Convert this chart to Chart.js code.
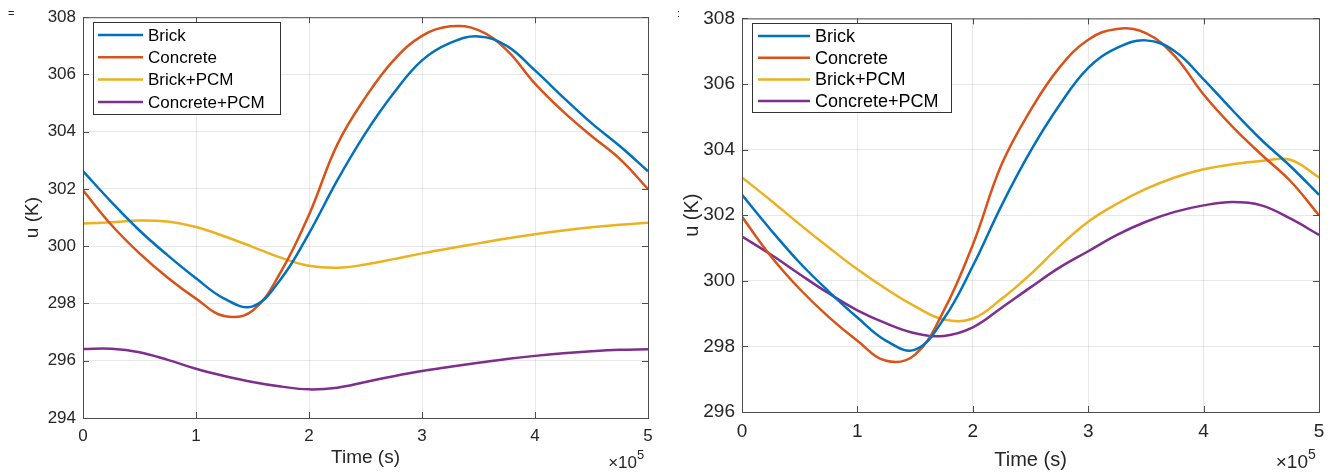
<!DOCTYPE html>
<html>
<head>
<meta charset="utf-8">
<script src="https://cdn.jsdelivr.net/npm/chart.js@4.4.1/dist/chart.umd.min.js"></script>
<style>
  body { margin: 0; background: #fff; }
  .panel { position: absolute; top: 0; width: 669px; height: 475px; }
</style>
</head>
<body>
<div class="panel" style="left:0"><canvas id="chart-left"></canvas></div>
<div class="panel" style="left:669px"><canvas id="chart-right"></canvas></div>
<script>
// time in seconds
const times = [0, 25000, 50000, 75000, 100000, 125000, 150000, 175000, 200000, 225000, 250000,
  275000, 300000, 325000, 350000, 375000, 400000, 425000, 450000, 475000, 500000];

const seriesNames = ["Brick", "Concrete", "Brick+PCM", "Concrete+PCM"];
const seriesColors = ["#0072BD", "#D95319", "#EDB120", "#7E2F8E"];

// same in both panels
const brick = [302.62, 301.55, 300.55, 299.68, 298.88, 298.17, 297.9, 298.85, 300.45, 302.3, 303.95,
  305.35, 306.49, 307.1, 307.33, 307.0, 306.14, 305.2, 304.3, 303.5, 302.62];
const concrete = [301.95, 300.75, 299.75, 298.9, 298.17, 297.56, 297.75, 299.1, 301.1, 303.55, 305.2,
  306.5, 307.35, 307.68, 307.55, 306.85, 305.68, 304.7, 303.85, 303.05, 302.0];

// left panel
const brickPcmLeft = [300.79, 300.84, 300.9, 300.86, 300.67, 300.35, 299.98, 299.6, 299.32, 299.25, 299.36,
  299.55, 299.75, 299.93, 300.1, 300.27, 300.42, 300.55, 300.66, 300.75, 300.82];
const concretePcmLeft = [296.41, 296.42, 296.3, 296.03, 295.72, 295.47, 295.26, 295.1, 295.0, 295.06, 295.26,
  295.46, 295.64, 295.79, 295.93, 296.06, 296.17, 296.26, 296.33, 296.38, 296.4];

// right panel
const brickPcmRight = [303.15, 302.45, 301.72, 301.02, 300.35, 299.75, 299.22, 298.82, 298.85, 299.45, 300.2,
  301.05, 301.8, 302.35, 302.8, 303.15, 303.4, 303.55, 303.65, 303.69, 303.15];
const concretePcmRight = [301.35, 300.8, 300.2, 299.62, 299.1, 298.7, 298.4, 298.32, 298.58, 299.18, 299.8,
  300.4, 300.9, 301.4, 301.8, 302.1, 302.3, 302.4, 302.3, 301.9, 301.4];

const xTickValues = [0, 100000, 200000, 300000, 400000, 500000];
const yRangeLeft = [294, 308];
const yRangeRight = [296, 308];

const frameColor = "#4d4d4d";
const textColor = "#262626";
const fontFamily = "'Liberation Sans', Arial, sans-serif";

// box, inward ticks, legend, titles, exponent label
const matlabFrame = {
  id: "matlabFrame",
  afterDraw(chart, args, opts) {
    const ctx = chart.ctx;
    const a = chart.chartArea;
    const xs = chart.scales.x, ys = chart.scales.y;
    ctx.save();
    ctx.strokeStyle = frameColor;
    ctx.lineWidth = 1;
    ctx.strokeRect(a.left + 0.5, a.top + 0.5, a.right - a.left, a.bottom - a.top);
    ctx.beginPath();
    xs.ticks.forEach(t => {
      const px = Math.round(xs.getPixelForValue(t.value)) + 0.5;
      ctx.moveTo(px, a.bottom); ctx.lineTo(px, a.bottom - 6);
      ctx.moveTo(px, a.top); ctx.lineTo(px, a.top + 6);
    });
    ys.ticks.forEach(t => {
      const py = Math.round(ys.getPixelForValue(t.value)) + 0.5;
      ctx.moveTo(a.left, py); ctx.lineTo(a.left + 6, py);
      ctx.moveTo(a.right, py); ctx.lineTo(a.right - 6, py);
    });
    ctx.stroke();

    // legend
    const lg = opts.legend;
    ctx.fillStyle = "#fff";
    ctx.fillRect(lg.x, lg.y, lg.w, lg.h);
    ctx.strokeStyle = "#333";
    ctx.strokeRect(lg.x + 0.5, lg.y + 0.5, lg.w, lg.h);
    ctx.font = lg.fontSize + "px " + fontFamily;
    ctx.textBaseline = "middle";
    ctx.textAlign = "left";
    chart.data.datasets.forEach((ds, i) => {
      const ry = lg.y + lg.firstRow + i * lg.rowGap;
      ctx.strokeStyle = ds.borderColor;
      ctx.lineWidth = 2.5;
      ctx.beginPath();
      ctx.moveTo(lg.lineX1, ry); ctx.lineTo(lg.lineX2, ry);
      ctx.stroke();
      ctx.fillStyle = "#000";
      ctx.fillText(ds.label, lg.textX, ry + 1);
    });

    // axis titles
    ctx.fillStyle = textColor;
    ctx.font = opts.titleSize + "px " + fontFamily;
    ctx.textAlign = "center";
    ctx.fillText("Time (s)", (a.left + a.right) / 2, opts.xTitleY);
    ctx.save();
    ctx.translate(opts.yTitleX, (a.top + a.bottom) / 2);
    ctx.rotate(-Math.PI / 2);
    ctx.fillText("u (K)", 0, 0);
    ctx.restore();

    // x10^5
    ctx.font = opts.tickSize + "px " + fontFamily;
    ctx.textAlign = "right";
    ctx.fillText("\u00d710", a.right - 11, opts.expY);
    ctx.font = Math.round(opts.tickSize * 0.75) + "px " + fontFamily;
    ctx.textAlign = "left";
    ctx.fillText("5", a.right - 11, opts.expY - 8);

    // stray mark in the corner of the source figure
    ctx.font = "11px " + fontFamily;
    ctx.fillText(opts.cornerMark, 8, 14);
    ctx.restore();
  }
};

function makeChart(id, pcmBrick, pcmConcrete, yRange, frame) {
  const values = [brick, concrete, pcmBrick, pcmConcrete];
  const datasets = values.map((vals, i) => ({
    label: seriesNames[i],
    data: times.map((t, k) => ({ x: t, y: vals[k] })),
    borderColor: seriesColors[i],
    borderWidth: 2.5,
    pointRadius: 0,
    tension: 0.4,
    fill: false
  }));
  return new Chart(document.getElementById(id), {
    type: "line",
    data: { datasets: datasets },
    plugins: [matlabFrame],
    options: {
      responsive: true,
      maintainAspectRatio: false,
      animation: false,
      layout: { padding: frame.padding },
      plugins: {
        legend: { display: false },
        tooltip: { enabled: false },
        matlabFrame: frame
      },
      scales: {
        x: {
          type: "linear",
          min: 0,
          max: 500000,
          afterBuildTicks: (scale) => { scale.ticks = xTickValues.map(v => ({ value: v })); },
          afterFit: (scale) => { scale.height = frame.xAxisHeight; },
          ticks: {
            padding: frame.xTickPad,
            color: textColor,
            font: { family: fontFamily, size: frame.tickSize },
            maxRotation: 0,
            callback: (v) => String(v / 100000)
          },
          grid: { color: "rgba(0,0,0,0.09)", drawTicks: false },
          border: { display: false }
        },
        y: {
          min: yRange[0],
          max: yRange[1],
          afterFit: (scale) => { scale.width = frame.yAxisWidth; },
          ticks: {
            stepSize: 2,
            padding: 7,
            color: textColor,
            font: { family: fontFamily, size: frame.tickSize }
          },
          grid: { color: "rgba(0,0,0,0.09)", drawTicks: false },
          border: { display: false }
        }
      }
    }
  });
}

makeChart("chart-left", brickPcmLeft, concretePcmLeft, yRangeLeft, {
  padding: { top: 13, right: 21, bottom: 0, left: 0 },
  xAxisHeight: 57,
  yAxisWidth: 83,
  tickSize: 17,
  xTickPad: 8,
  titleSize: 19,
  xTitleY: 458,
  yTitleX: 33,
  expY: 463,
  cornerMark: "=",
  legend: { x: 93, y: 22, w: 187, h: 92, firstRow: 13, rowGap: 22.3, lineX1: 98, lineX2: 143, textX: 148, fontSize: 17 }
});

makeChart("chart-right", brickPcmRight, concretePcmRight, yRangeRight, {
  padding: { top: 15, right: 19, bottom: 0, left: 0 },
  xAxisHeight: 63,
  yAxisWidth: 73,
  tickSize: 19,
  xTickPad: 8,
  titleSize: 20,
  xTitleY: 460,
  yTitleX: 23,
  expY: 463,
  cornerMark: ":",
  legend: { x: 83, y: 23, w: 199, h: 89, firstRow: 13, rowGap: 21.7, lineX1: 89, lineX2: 141, textX: 146, fontSize: 18 }
});
</script>
</body>
</html>
